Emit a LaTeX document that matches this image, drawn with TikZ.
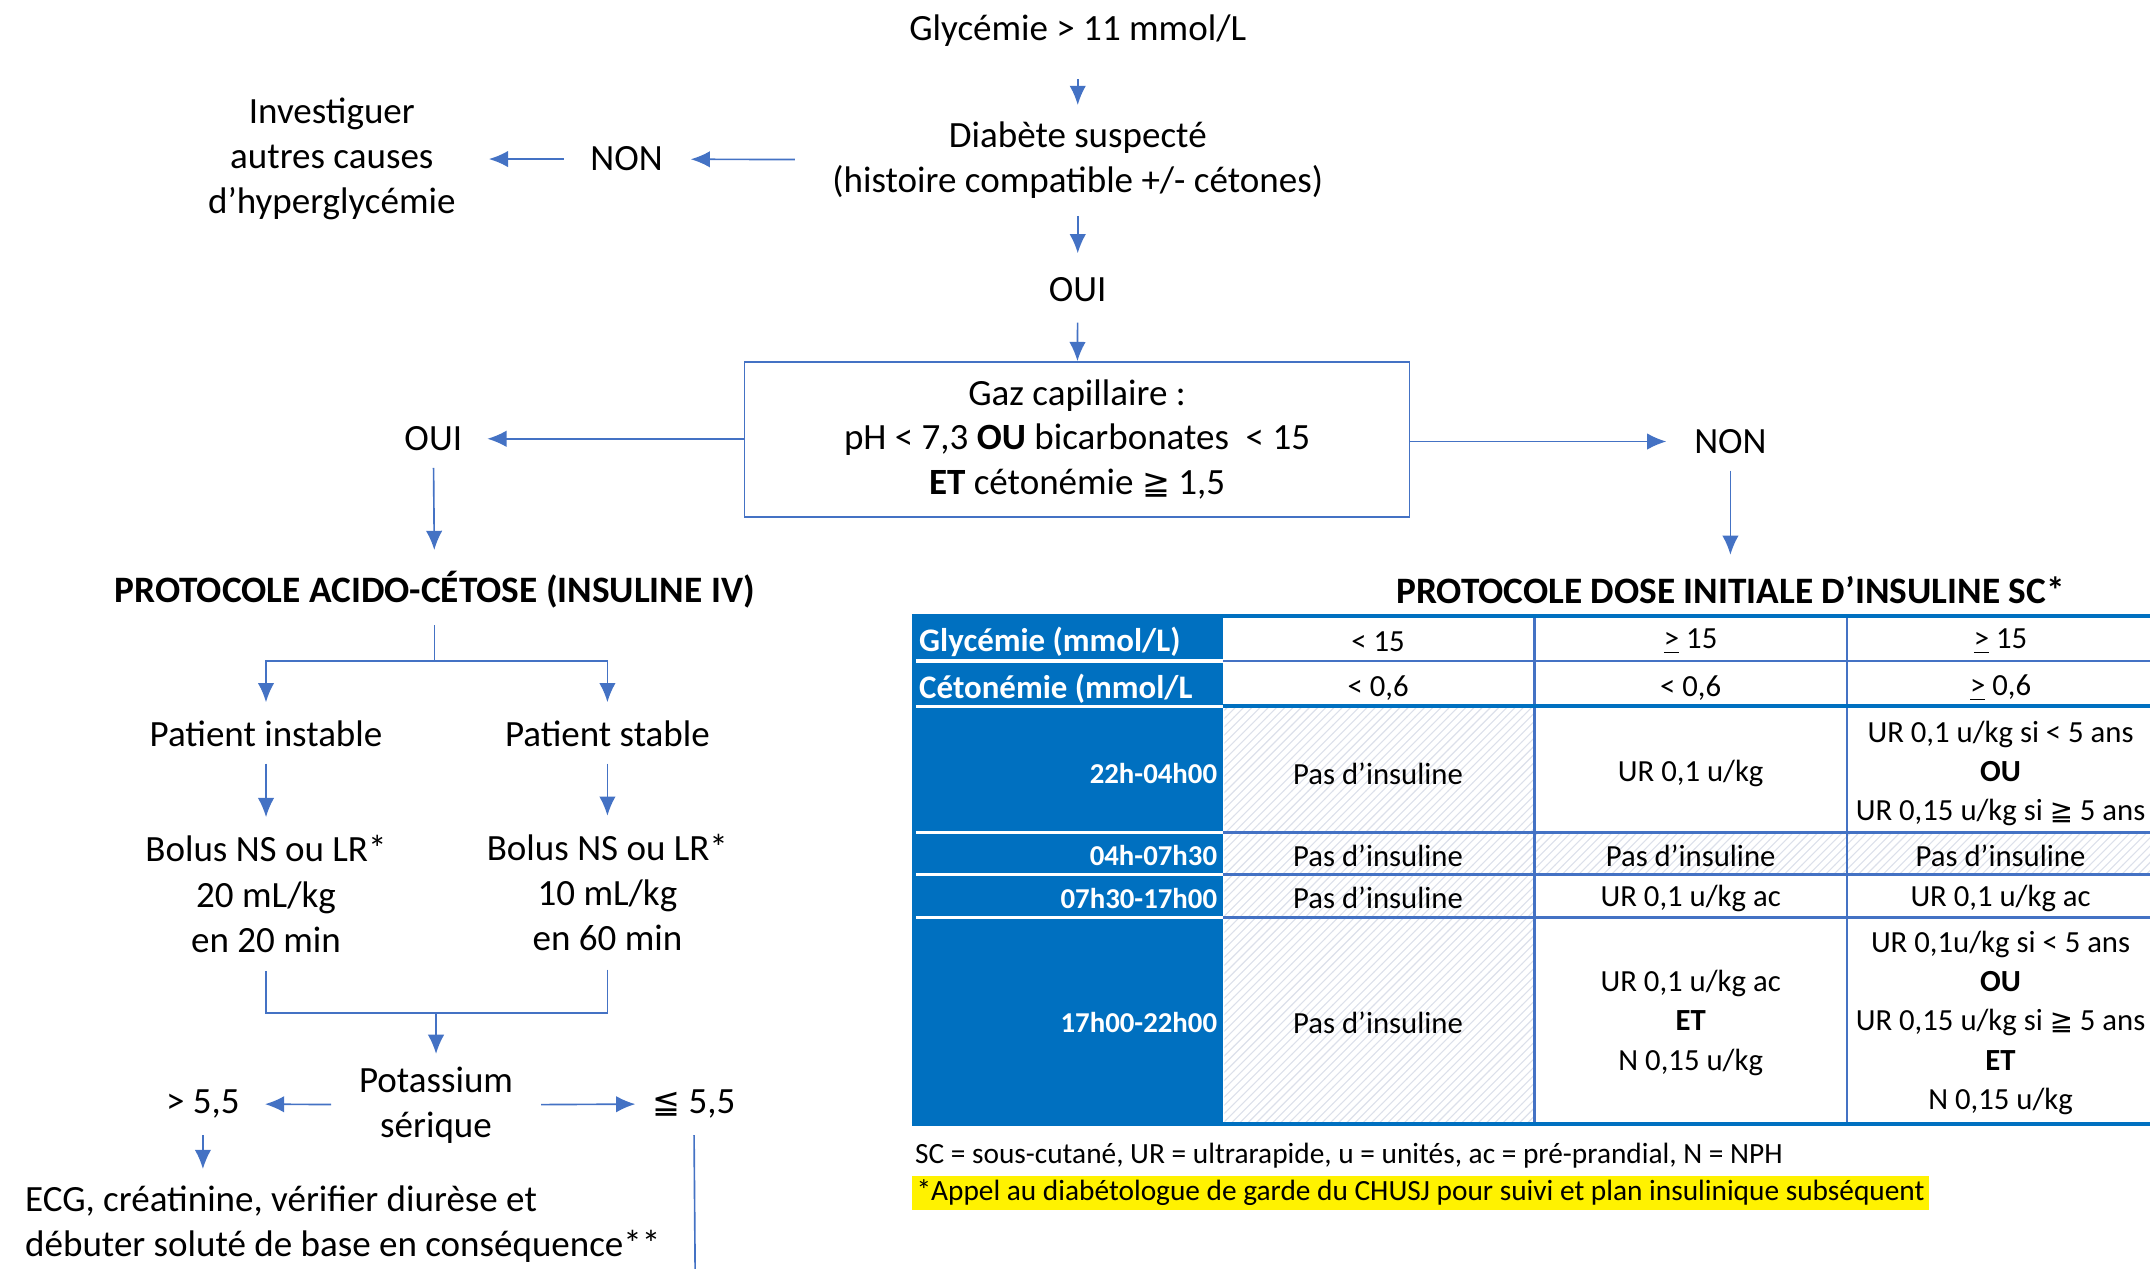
\documentclass[tikz,border=0pt]{standalone}
\usepackage{fontspec}
\setmainfont{Carlito}
\newfontfamily\symfnt{DejaVu Sans}
\usetikzlibrary{positioning,arrows.meta,patterns}
\definecolor{lineblue}{HTML}{4472C4}
\definecolor{headblue}{HTML}{0070C0}
\definecolor{hatchgray}{HTML}{DCE0EA}
\newcommand{\geqqs}{{\symfnt\fontsize{0.9em}{1em}\selectfont ≧}}
\newcommand{\leqqs}{{\symfnt\fontsize{0.9em}{1em}\selectfont ≦}}
\newcommand{\ugt}{\underline{>}}

\begin{document}
\begin{tikzpicture}[x=0.5pt,y=-0.5pt,
  every node/.style={inner sep=0pt,align=center,yshift=-1pt,font=\fontsize{13.5}{16.5}\selectfont},
  arrow/.style={-{Latex[length=7pt,width=6pt]},color=lineblue,line width=0.6pt},
  link/.style={draw=lineblue,line width=0.6pt},
  title/.style={font=\bfseries\fontsize{13.6}{16}\selectfont},
  cell/.style={font=\fontsize{11.2}{14.3}\selectfont},
  headcell/.style={font=\bfseries\fontsize{12}{14}\selectfont,text=white},
  timecell/.style={font=\bfseries\fontsize{10.5}{13}\selectfont,text=white}]
\useasboundingbox (0,0) rectangle (1568,925);

% flow chart, top
\node (glyc) at (786,20) {Glycémie > 11 mmol/L};
\node (diab) at (786,115) {Diabète suspecté\\(histoire compatible +/- cétones)};
\node (oui_a) at (786,209) {OUI};
\node[draw=lineblue,line width=0.6pt,minimum width=242.5pt,minimum height=56.5pt,
  font=\fontsize{13.5}{16.25}\selectfont] (gaz) at (785.5,318.5)
  {Gaz capillaire :\\pH < 7,3 \textbf{OU} bicarbonates \ < 15\\\textbf{ET} cétonémie \geqqs{} 1,5};
\node (non_a) at (457,114) {NON};
\node (invest) at (242,114) {Investiguer\\autres causes\\d’hyperglycémie};
\node (oui_b) at (316,318) {OUI};
\node (non_b) at (1262,320) {NON};

\path[arrow]
  (glyc) edge[shorten <=12pt,shorten >=6pt] (diab)
  (diab) edge[shorten <=6pt,shorten >=8.5pt] (oui_a)
  (oui_a) edge[shorten <=7.5pt] (gaz)
  (diab) edge[shorten <=13.5pt,shorten >=10pt] (non_a)
  (non_a) edge[shorten <=9.5pt,shorten >=12pt] (invest)
  (gaz.west |- oui_b) edge[shorten >=9pt] (oui_b)
  (gaz.east |- non_b) edge[shorten >=10pt] (non_b);

% protocole IV
\node[title] (title_l) at (317,428) {PROTOCOLE ACIDO-CÉTOSE (INSULINE IV)};
\node (instable) at (194,533) {Patient instable};
\node (stable) at (443,533) {Patient stable};
\node (bolus_a) at (194,650) {Bolus NS ou LR*\\20 mL/kg\\en 20 min};
\node (bolus_b) at (443,649) {Bolus NS ou LR*\\10 mL/kg\\en 60 min};
\node (potas) at (318,804) {Potassium\\sérique};
\node (gt) at (148,803) {> 5,5};
\node (le) at (506,803) {\leqqs{} 5,5};
\node[align=left,anchor=west] (ecg) at (18,891) {ECG, créatinine, vérifier diurèse et\\débuter soluté de base en conséquence**};
\coordinate (split) at (317,480);
\coordinate (merge) at (318,737);
\coordinate (low) at (507,930);

\path[arrow]
  (oui_b) edge[shorten <=6pt,shorten >=7.5pt] (title_l)
  (instable) edge[shorten <=6pt,shorten >=6.5pt] (bolus_a)
  (stable) edge[shorten <=6pt,shorten >=6.5pt] (bolus_b)
  (merge) edge[shorten >=4.5pt] (potas)
  (potas) edge[shorten <=10pt,shorten >=9pt] (gt)
  (potas) edge[shorten <=10pt,shorten >=6pt] (le)
  (gt) edge[shorten <=6pt,shorten >=6pt] (gt |- ecg.north);
\draw[link,shorten <=6pt] (title_l) -- (split);
\draw[arrow,shorten >=6.5pt] (split) -| (instable);
\draw[arrow,shorten >=6.5pt] (split) -| (stable);
\draw[link,shorten <=6.5pt] (bolus_a) |- (merge);
\draw[link,shorten <=6.5pt] (bolus_b) |- (merge);
\draw[link,shorten <=6pt] (le) -- (low);

% protocole SC, table
\node[title] (title_r) at (1262,428) {PROTOCOLE DOSE INITIALE D’INSULINE SC*};
\path[arrow] (non_b) edge[shorten <=6pt,shorten >=7.5pt] (title_r);

\fill[headblue] (665,449) rectangle (892,820);
\fill[pattern=north east lines,pattern color=hatchgray] (893,515) rectangle (1119,820);
\fill[pattern=north east lines,pattern color=hatchgray] (1119,607) rectangle (1568,638);
\foreach \r in {482,515,607,638,669}
  \draw[white,line width=1.2pt] (668,\r) -- (892,\r);
\foreach \r in {482,607,638,669}
  \draw[lineblue,line width=1pt] (892,\r) -- (1568,\r);
\foreach \c in {1119,1347}
  \draw[lineblue,line width=1pt] (\c,449) -- (\c,820);
\draw[headblue,line width=1.4pt] (665,449) -- (1568,449);
\draw[headblue,line width=1.4pt] (892,515) -- (1568,515);
\draw[headblue,line width=1.4pt] (665,820) -- (1568,820);

\node[headcell,anchor=west] (h_glyc) at (670,466) {Glycémie (mmol/L)};
\node[headcell,anchor=west] (h_ceto) at (670,500) {Cétonémie (mmol/L};
\node[timecell,anchor=east] (h_t1) at (888,562) {22h-04h00};
\node[timecell,anchor=east] (h_t2) at (888,622) {04h-07h30};
\node[timecell,anchor=east] (h_t3) at (888,653) {07h30-17h00};
\node[timecell,anchor=east] (h_t4) at (888,744) {17h00-22h00};

\node[cell] (c11) at (1005,466) {< 15};
\node[cell] (c12) at (1233,466) {\ugt{} 15};
\node[cell] (c13) at (1459,466) {\ugt{} 15};
\node[cell] (c21) at (1005,500) {< 0,6};
\node[cell] (c22) at (1233,500) {< 0,6};
\node[cell] (c23) at (1459,500) {\ugt{} 0,6};
\node[cell] (c31) at (1005,562) {Pas d’insuline};
\node[cell] (c32) at (1233,562) {UR 0,1 u/kg};
\node[cell] (c33) at (1459,562) {UR 0,1 u/kg si < 5 ans\\\textbf{OU}\\UR 0,15 u/kg si \geqqs{} 5 ans};
\node[cell] (c41) at (1005,622) {Pas d’insuline};
\node[cell] (c42) at (1233,622) {Pas d’insuline};
\node[cell] (c43) at (1459,622) {Pas d’insuline};
\node[cell] (c51) at (1005,653) {Pas d'insuline};
\node[cell] (c52) at (1233,653) {UR 0,1 u/kg ac};
\node[cell] (c53) at (1459,653) {UR 0,1 u/kg ac};
\node[cell] (c61) at (1005,744) {Pas d’insuline};
\node[cell] (c62) at (1233,744) {UR 0,1 u/kg ac\\\textbf{ET}\\N 0,15 u/kg};
\node[cell] (c63) at (1459,744) {UR 0,1u/kg si < 5 ans\\\textbf{OU}\\UR 0,15 u/kg si \geqqs{} 5 ans\\\textbf{ET}\\N 0,15 u/kg};

\node[cell,anchor=west,font=\fontsize{10.7}{13}\selectfont] (note_a) at (667,841)
  {SC = sous-cutané, UR = ultrarapide, u = unités, ac = pré-prandial, N = NPH};
\node[cell,anchor=west,fill=yellow,inner sep=1.5pt,font=\fontsize{10.7}{13}\selectfont] (note_b) at (665,868)
  {*Appel au diabétologue de garde du CHUSJ pour suivi et plan insulinique subséquent};
\end{tikzpicture}
\end{document}
